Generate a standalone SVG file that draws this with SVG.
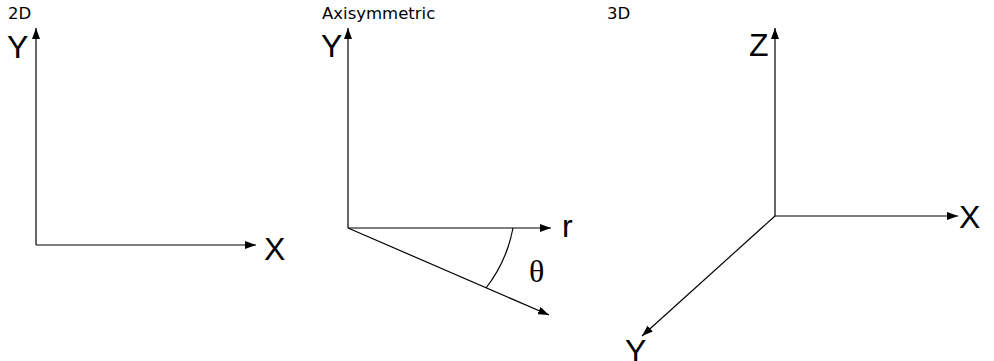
<svg xmlns="http://www.w3.org/2000/svg" width="994" height="361" viewBox="0 0 994 361">
<style>
.ax{stroke:#000;stroke-width:1.2;fill:none;marker-end:url(#ah)}
.big{font-family:"Liberation Sans",Arial,sans-serif;font-size:32px;fill:#000}
.ttl{font-family:"DejaVu Sans",Verdana,sans-serif;font-size:16.5px;fill:#000}
.th{font-family:"Liberation Serif","Times New Roman",serif;font-size:32px;fill:#000}
</style>
<defs>
<marker id="ah" markerWidth="12" markerHeight="8" refX="11" refY="4" orient="auto" markerUnits="userSpaceOnUse">
<path d="M0,0 L11,4 L0,8 Z" fill="#000"/>
</marker>
</defs>
<rect width="994" height="361" fill="#fff"/>
<g id="connectors">
<line class="ax" x1="36" y1="245" x2="36" y2="28"/>
<line class="ax" x1="36" y1="245" x2="256" y2="245"/>
<line class="ax" x1="348" y1="228" x2="348" y2="28"/>
<line class="ax" x1="348" y1="228" x2="551" y2="228"/>
<line class="ax" x1="348" y1="228" x2="549" y2="315"/>
<path d="M513,228 A140,140 0 0 1 486,288" stroke="#000" stroke-width="1.2" fill="none"/>
<line class="ax" x1="775" y1="216" x2="775" y2="28"/>
<line class="ax" x1="775" y1="216" x2="958" y2="216"/>
<line class="ax" x1="775" y1="216" x2="642" y2="336"/>
</g>
<g id="title-2d"><text class="ttl" x="8" y="19">2D</text></g>
<g id="label-2d-y"><text class="big" x="7" y="58">Y</text></g>
<g id="label-2d-x"><text class="big" x="264" y="260">X</text></g>
<g id="title-axi"><text class="ttl" x="322" y="19">Axisymmetric</text></g>
<g id="label-axi-y"><text class="big" x="321" y="57">Y</text></g>
<g id="label-axi-r"><text class="big" x="562" y="237">r</text></g>
<g id="label-axi-theta"><text class="th" x="529" y="282">θ</text></g>
<g id="title-3d"><text class="ttl" x="607" y="19">3D</text></g>
<g id="label-3d-z"><text class="big" x="749" y="56">Z</text></g>
<g id="label-3d-x"><text class="big" x="959" y="228">X</text></g>
<g id="label-3d-y"><text class="big" x="625" y="362">Y</text></g>
</svg>
